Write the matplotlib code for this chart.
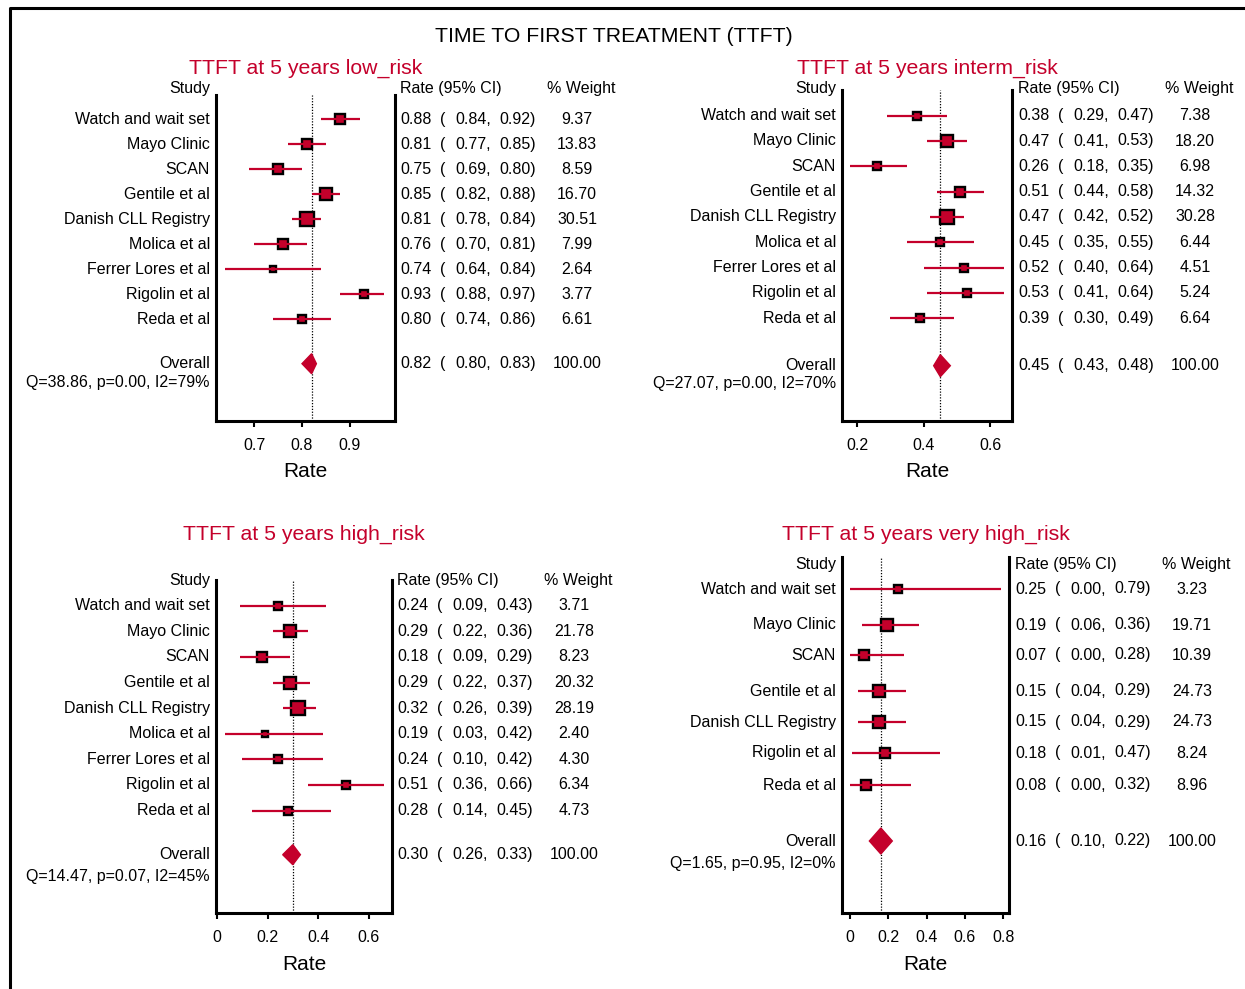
import matplotlib
matplotlib.use("Agg")
import matplotlib.pyplot as plt
from matplotlib.lines import Line2D
from matplotlib.patches import Polygon

plt.rcParams['font.family'] = ['Liberation Sans', 'DejaVu Sans']

RED = '#c4002b'
W, H = 1245, 989

#DATA:
main_title = 'TIME TO FIRST TREATMENT (TTFT)'

studies9 = ['Watch and wait set', 'Mayo Clinic', 'SCAN', 'Gentile et al',
            'Danish CLL Registry', 'Molica et al', 'Ferrer Lores et al',
            'Rigolin et al', 'Reda et al']
studies7 = ['Watch and wait set', 'Mayo Clinic', 'SCAN', 'Gentile et al',
            'Danish CLL Registry', 'Rigolin et al', 'Reda et al']

#low risk
low_rate = [0.88, 0.81, 0.75, 0.85, 0.81, 0.76, 0.74, 0.93, 0.80]
low_lo = [0.84, 0.77, 0.69, 0.82, 0.78, 0.70, 0.64, 0.88, 0.74]
low_hi = [0.92, 0.85, 0.80, 0.88, 0.84, 0.81, 0.84, 0.97, 0.86]
low_w = [9.37, 13.83, 8.59, 16.70, 30.51, 7.99, 2.64, 3.77, 6.61]
low_overall = [0.82, 0.80, 0.83]
low_q = 'Q=38.86, p=0.00, I2=79%'

#intermediate risk
int_rate = [0.38, 0.47, 0.26, 0.51, 0.47, 0.45, 0.52, 0.53, 0.39]
int_lo = [0.29, 0.41, 0.18, 0.44, 0.42, 0.35, 0.40, 0.41, 0.30]
int_hi = [0.47, 0.53, 0.35, 0.58, 0.52, 0.55, 0.64, 0.64, 0.49]
int_w = [7.38, 18.20, 6.98, 14.32, 30.28, 6.44, 4.51, 5.24, 6.64]
int_overall = [0.45, 0.43, 0.48]
int_q = 'Q=27.07, p=0.00, I2=70%'

#high risk
high_rate = [0.24, 0.29, 0.18, 0.29, 0.32, 0.19, 0.24, 0.51, 0.28]
high_lo = [0.09, 0.22, 0.09, 0.22, 0.26, 0.03, 0.10, 0.36, 0.14]
high_hi = [0.43, 0.36, 0.29, 0.37, 0.39, 0.42, 0.42, 0.66, 0.45]
high_w = [3.71, 21.78, 8.23, 20.32, 28.19, 2.40, 4.30, 6.34, 4.73]
high_overall = [0.30, 0.26, 0.33]
high_q = 'Q=14.47, p=0.07, I2=45%'

#very high risk
vh_rate = [0.25, 0.19, 0.07, 0.15, 0.15, 0.18, 0.08]
vh_lo = [0.00, 0.06, 0.00, 0.04, 0.04, 0.01, 0.00]
vh_hi = [0.79, 0.36, 0.28, 0.29, 0.29, 0.47, 0.32]
vh_w = [3.23, 19.71, 10.39, 24.73, 24.73, 8.24, 8.96]
vh_overall = [0.16, 0.10, 0.22]
vh_q = 'Q=1.65, p=0.95, I2=0%'


#FUNCTIONS:
def fx(x):
    return x / W

def fy(y):
    return 1 - y / H

def ftext(fig, x, y, s, **kw):
    """text placed in pixel coords (origin top-left)"""
    kw.setdefault('fontsize', 11.5)
    kw.setdefault('va', 'center')
    fig.text(fx(x), fy(y), s, **kw)

def forest(fig, title, studies, rate, lo, hi, wt, overall, qtext,
           box, xlim, xticks, xticklabels, rows, y_overall, y_head,
           text_x, y_title, q_gap=19, diam_h=10):
    """box = (left, top, right, bottom) of the plot in pixels"""
    left, top, right, bottom = box
    ax = fig.add_axes([fx(left), fy(bottom), fx(right - left), (bottom - top) / H])
    ax.set_xlim(xlim)
    ax.set_ylim(bottom, top)  # y in pixels, inverted
    for s in ['left', 'right', 'bottom']:
        ax.spines[s].set_linewidth(2.2)
    ax.spines['top'].set_visible(False)
    ax.set_yticks([])
    ax.set_xticks(xticks)
    ax.set_xticklabels(xticklabels)
    ax.tick_params(axis='x', length=4.5, width=1.5, pad=8, labelsize=11.5)

    # dotted line at overall estimate
    ax.axvline(overall[0], color='black', lw=0.9, ls=(0, (1, 1.3)), zorder=1)

    for i in range(len(studies)):
        size = (4 + 1.8 * wt[i] ** 0.5) * 0.72
        ax.plot(rate[i], rows[i], marker='s', ms=size, mfc=RED, mec='black',
                mew=1.7, zorder=2)
        ax.plot([lo[i], hi[i]], [rows[i], rows[i]], color=RED, lw=1.6,
                zorder=3, solid_capstyle='butt')
        ftext(fig, left - 6, rows[i], studies[i], ha='right')
        ftext(fig, text_x, rows[i], '%.2f' % rate[i], ha='left')
        ftext(fig, text_x + 40, rows[i], '(', ha='left')
        ftext(fig, text_x + 55, rows[i], '%.2f,' % lo[i], ha='left')
        ftext(fig, text_x + 99, rows[i], '%.2f)' % hi[i], ha='left')
        ftext(fig, text_x + 177, rows[i], '%.2f' % wt[i], ha='center')

    est, olo, ohi = overall
    diamond = Polygon([(olo, y_overall), (est, y_overall - diam_h),
                       (ohi, y_overall), (est, y_overall + diam_h)],
                      closed=True, facecolor=RED, edgecolor=RED, zorder=3)
    ax.add_patch(diamond)
    ftext(fig, left - 6, y_overall, 'Overall', ha='right')
    ftext(fig, left - 6, y_overall + q_gap, qtext, ha='right')
    ftext(fig, text_x, y_overall, '%.2f' % est, ha='left')
    ftext(fig, text_x + 40, y_overall, '(', ha='left')
    ftext(fig, text_x + 55, y_overall, '%.2f,' % olo, ha='left')
    ftext(fig, text_x + 99, y_overall, '%.2f)' % ohi, ha='left')
    ftext(fig, text_x + 177, y_overall, '100.00', ha='center')

    # headers
    ftext(fig, left - 6, y_head, 'Study', ha='right')
    ftext(fig, text_x, y_head, 'Rate (95% CI)', ha='left')
    ftext(fig, text_x + 147, y_head, '% Weight', ha='left')

    mid = (left + right) / 2
    ftext(fig, mid, y_title, title, ha='center', fontsize=15.3, color=RED)
    ftext(fig, mid, bottom + 51, 'Rate', ha='center', fontsize=15)
    return ax


#MAIN:
if __name__ == "__main__":
    fig = plt.figure(figsize=(W / 100, H / 100), dpi=100)

    # frame around the whole figure (top and left edges visible)
    fig.add_artist(Line2D([fx(10), fx(10), 1.0], [0.0, fy(8), fy(8)],
                          color='black', lw=2.2, transform=fig.transFigure))
    ftext(fig, 613.5, 36, main_title, ha='center', fontsize=15.3)

    rows_low = [119.3 + 25 * i for i in range(9)]
    rows_int = [115.7 + 25.3 * i for i in range(9)]
    rows_high = [605.7 + 25.6 * i for i in range(9)]
    rows_vh = [589, 625, 655, 691, 722, 753, 785]

    forest(fig, 'TTFT at 5 years low_risk', studies9, low_rate, low_lo,
           low_hi, low_w, low_overall, low_q,
           box=(216, 95, 395, 421), xlim=(0.6208, 0.9938),
           xticks=[0.7, 0.8, 0.9], xticklabels=['0.7', '0.8', '0.9'],
           rows=rows_low, y_overall=363.7, y_head=89, text_x=400,
           y_title=68, q_gap=19)

    forest(fig, 'TTFT at 5 years interm_risk', studies9, int_rate, int_lo,
           int_hi, int_w, int_overall, int_q,
           box=(842, 90, 1012, 421), xlim=(0.155, 0.665),
           xticks=[0.2, 0.4, 0.6], xticklabels=['0.2', '0.4', '0.6'],
           rows=rows_int, y_overall=365.7, y_head=89, text_x=1018,
           y_title=68, q_gap=17.5, diam_h=11)

    forest(fig, 'TTFT at 5 years high_risk', studies9, high_rate, high_lo,
           high_hi, high_w, high_overall, high_q,
           box=(216, 580, 392, 913), xlim=(-0.004, 0.6926),
           xticks=[0, 0.2, 0.4, 0.6], xticklabels=['0', '0.2', '0.4', '0.6'],
           rows=rows_high, y_overall=854.7, y_head=581, text_x=397,
           y_title=534, q_gap=22)

    forest(fig, 'TTFT at 5 years very high_risk', studies7, vh_rate, vh_lo,
           vh_hi, vh_w, vh_overall, vh_q,
           box=(842, 557, 1009, 913), xlim=(-0.0433, 0.831),
           xticks=[0, 0.2, 0.4, 0.6, 0.8],
           xticklabels=['0', '0.2', '0.4', '0.6', '0.8'],
           rows=rows_vh, y_overall=841, y_head=565, text_x=1015,
           y_title=534, q_gap=22.5, diam_h=13)

    plt.savefig('out.png', dpi=100)
